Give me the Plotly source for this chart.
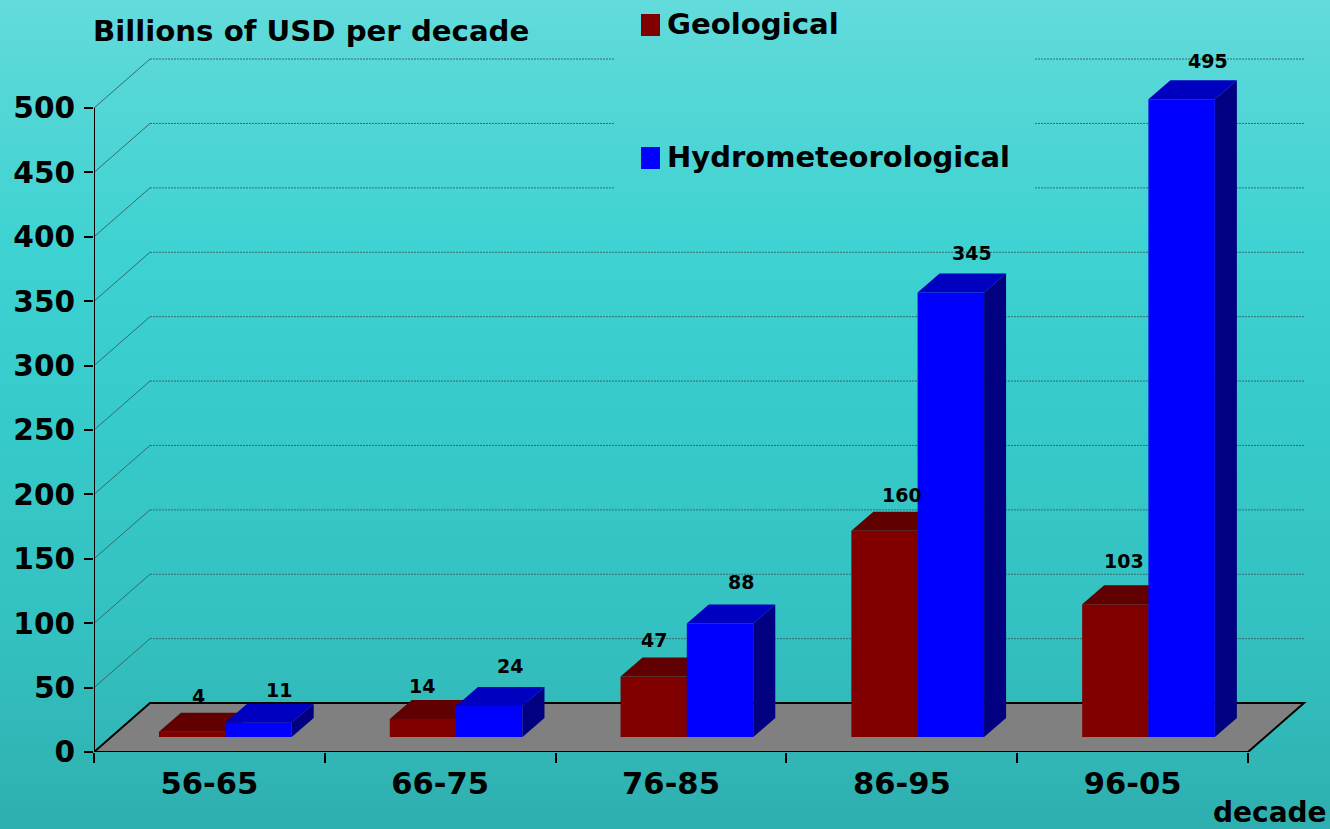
import plotly.graph_objects as go

decades = ["56-65", "66-75", "76-85", "86-95", "96-05"]
geological = [4, 14, 47, 160, 103]
hydromet = [11, 24, 88, 345, 495]
y_ticks = list(range(0, 501, 50))

# pixel frame: the plot area runs to the page's top and right so depth marks stay inside it
W, H = 1330, 829
L, B = 94, 752
PX_PER_CAT = 230.8
PX_PER_UNIT = 1.288
X_MAX = (W - L) / PX_PER_CAT
Y_MAX = B / PX_PER_UNIT
FONT = "DejaVu Sans"

# depth and bar geometry, in axis units
BAR_W = 0.288
GEO_SHIFT, HYD_SHIFT = -0.0745, 0.2125
LIFT = 11.7
DX, DY = 0.0953, 14.75
FLOOR_DX, FLOOR_DY = 0.2426, 38.0

# hand-placed data labels: pixel nudges from the top of each bar's front face
geo_nudge = [(6, 36), (-1, 33), (0, 36), (17, 36), (9, 43)]
hyd_nudge = [(21, 33), (21, 40), (21, 42), (21, 40), (26.5, 38)]


def px(x):
    return (x - L) / (W - L)


def py(y):
    return (B - y) / B


def mix(a, b, t):
    return tuple(round(a[i] + (b[i] - a[i]) * t) for i in range(3))


stops = [(0, (98, 219, 219)), (100, (84, 214, 214)), (250, (62, 210, 210)),
         (400, (55, 203, 203)), (640, (52, 192, 192)), (829, (47, 175, 175))]


def bg(y):
    for (y0, c0), (y1, c1) in zip(stops, stops[1:]):
        if y <= y1:
            return "rgb(%d,%d,%d)" % mix(c0, c1, (y - y0) / (y1 - y0))
    return "rgb(47,175,175)"


shapes = []
for y in range(0, H, 5):
    shapes.append(dict(type="rect", xref="paper", yref="paper", layer="below",
                       x0=px(-1), x1=px(W + 1), y0=py(y), y1=py(y + 5.5),
                       fillcolor=bg(y + 2.5), line=dict(width=0)))

# back-wall grid, broken where the legend panel sat
GAP0, GAP1 = (614.5 - L) / PX_PER_CAT, (1035 - L) / PX_PER_CAT
GAP_BELOW_PX = 200
GRID = "#356b6e"
for v in y_ticks[1:]:
    top = v + FLOOR_DY
    shapes.append(dict(type="line", xref="x", yref="y", layer="below",
                       x0=0, y0=v, x1=FLOOR_DX, y1=top,
                       line=dict(color=GRID, width=1)))
    segs = [(FLOOR_DX, 5 + FLOOR_DX)]
    if B - top * PX_PER_UNIT < GAP_BELOW_PX:
        segs = [(FLOOR_DX, GAP0), (GAP1, 5 + FLOOR_DX)]
    for a, b in segs:
        shapes.append(dict(type="line", xref="x", yref="y", layer="below",
                           x0=a, y0=top, x1=b, y1=top,
                           line=dict(color=GRID, width=1, dash="2px,1px")))

# floor
shapes.append(dict(type="path", xref="x", yref="y", layer="below",
                   path=f"M 0 0 L {FLOOR_DX} {FLOOR_DY} L {5 + FLOOR_DX} {FLOOR_DY} L 5 0 Z",
                   fillcolor="#808080", line=dict(color="black", width=2)))
# value axis line
shapes.append(dict(type="line", xref="x", yref="y", layer="above",
                   x0=0, x1=0, y0=0, y1=500, line=dict(color="black", width=2)))

# legend keys
shapes.append(dict(type="rect", xref="paper", yref="paper", layer="above",
                   x0=px(641), x1=px(660), y0=py(36), y1=py(14),
                   fillcolor="#800000", line=dict(width=0)))
shapes.append(dict(type="rect", xref="paper", yref="paper", layer="above",
                   x0=px(641), x1=px(660), y0=py(169), y1=py(147),
                   fillcolor="#0000ff", line=dict(width=0)))

fig = go.Figure()


def poly(xs, ys, color, xa, ya):
    fig.add_trace(go.Scatter(x=xs + xs[:1], y=ys + ys[:1], mode="lines", fill="toself",
                             fillcolor=color, line=dict(width=0, color=color),
                             hoverinfo="skip", showlegend=False,
                             xaxis=xa, yaxis=ya))


def series(name, values, shift, front, topc, sidec, xa, ya):
    centers = [i + 0.5 + shift for i in range(len(values))]
    fig.add_trace(go.Bar(x=centers, y=values, base=LIFT, width=BAR_W, name=name,
                         marker=dict(color=front, line=dict(width=0)),
                         showlegend=False, xaxis=xa, yaxis=ya))
    for c, v in zip(centers, values):
        x0, x1 = c - BAR_W / 2, c + BAR_W / 2
        t = v + LIFT
        poly([x1, x1, x1 + DX, x1 + DX], [LIFT, t, t + DY, LIFT + DY], sidec, xa, ya)
        poly([x0, x1, x1 + DX, x0 + DX], [t, t, t + DY, t + DY], topc, xa, ya)
    return centers


geo_c = series("Geological", geological, GEO_SHIFT, "#800000", "#600000", "#400000", "x", "y")
hyd_c = series("Hydrometeorological", hydromet, HYD_SHIFT, "#0000ff", "#0000c0", "#000080", "x2", "y2")

ann = []
for cs, vals, nudges in ((geo_c, geological, geo_nudge), (hyd_c, hydromet, hyd_nudge)):
    for c, v, (nx, ny) in zip(cs, vals, nudges):
        ann.append(dict(x=c, y=v + LIFT, xref="x", yref="y", text=str(v), showarrow=False,
                        xshift=nx, yshift=ny, xanchor="center", yanchor="middle",
                        font=dict(family=FONT, size=19, color="black", weight="bold")))


def label(text, x, y, size):
    ann.append(dict(x=px(x), y=py(y), xref="paper", yref="paper", text=text, showarrow=False,
                    xanchor="left", yanchor="middle", borderpad=0, borderwidth=0,
                    font=dict(family=FONT, size=size, color="black", weight="bold")))


label("Billions of USD per decade", 92.5, 31, 29.2)
label("Geological", 666.5, 24, 29.2)
label("Hydrometeorological", 667, 157, 29)
label("decade", 1213, 812, 28)

tickfont = dict(family=FONT, size=29.6, color="black", weight="bold")
xtickfont = dict(family=FONT, size=30.6, color="black", weight="bold")
fig.update_layout(
    width=W, height=H, autosize=False,
    margin=dict(l=L, r=0, t=0, b=H - B, pad=0),
    paper_bgcolor="rgba(0,0,0,0)", plot_bgcolor="rgba(0,0,0,0)",
    barmode="overlay", showlegend=False, shapes=shapes, annotations=ann,
    xaxis=dict(range=[0, X_MAX], automargin=False, tickmode="array",
               tickvals=[i + 0.5 for i in range(5)],
               ticktext=decades, ticks="", tickfont=xtickfont, ticklabelstandoff=10,
               showgrid=False, zeroline=False, showline=False,
               minor=dict(tickmode="array", tickvals=list(range(6)), ticks="outside",
                          ticklen=10, tickwidth=1.5, tickcolor="black", showgrid=False)),
    yaxis=dict(range=[0, Y_MAX], automargin=False, tickmode="array", tickvals=y_ticks,
               ticks="outside", ticklen=9, tickwidth=2, tickcolor="black", tickfont=tickfont,
               ticklabelstandoff=3, showgrid=False, zeroline=False, showline=False),
    xaxis2=dict(range=[0, X_MAX], overlaying="x", matches="x", visible=False),
    yaxis2=dict(range=[0, Y_MAX], overlaying="y", matches="y", visible=False),
)

fig.write_html("out.html", config=dict(displayModeBar=False),
               post_script="document.body.style.margin='0';document.body.style.overflow='hidden';")
